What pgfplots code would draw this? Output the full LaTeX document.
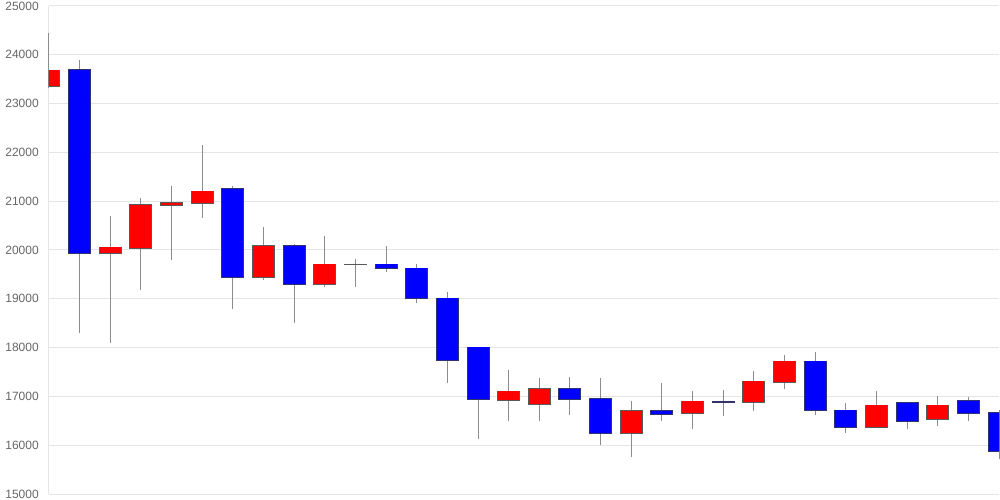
\documentclass[border=0pt]{standalone}
\usepackage{pgfplots}
\pgfplotsset{compat=1.18}
\usepackage{pgfplotstable}
\usepackage{fontspec}
\setmainfont{Liberation Sans}
\pgfplotstableread{
x bot top lo hi
0 23367 23682 23313 24441
2 19932 20055 18100 20697
3 20047 20922 19187 21059
4 20922 20963 19801 21311
5 20963 21203 20662 22152
7 19453 20082 19379 20471
9 19297 19707 19248 20287
10 19707 19707 19248 19809
15 16932 17104 16502 17541
16 16850 17152 16502 17383
19 16250 16701 15764 16906
21 16653 16899 16332 17104
23 16879 17309 16695 17520
24 17301 17719 17158 17855
27 16379 16817 16352 17111
29 16543 16817 16400 17002
}\reddata
\pgfplotstableread{
x bot top lo hi
1 19932 23695 18305 23893
6 19453 21256 18784 21311
8 19297 20082 18498 20117
11 19625 19707 19543 20082
12 19010 19625 18914 19707
13 17752 19010 17281 19133
14 16940 18006 16121 18006
17 16940 17152 16613 17391
18 16244 16947 16004 17383
20 16646 16701 16502 17275
22 16885 16885 16605 17131
25 16715 17719 16626 17910
26 16379 16715 16256 16858
28 16502 16865 16338 16865
30 16666 16906 16502 16988
31 15875 16666 15711 16721
}\bluedata
\begin{document}
\begin{tikzpicture}
\begin{axis}[at={(0,0)}, anchor=south west, scale only axis,
  width=712.5pt, height=366pt,
  xmin=0, xmax=31, ymin=15000, ymax=25000,
  xtick=\empty,
  ytick={15000,16000,...,25000},
  yticklabels={15000,16000,17000,18000,19000,20000,21000,22000,23000,24000,25000},
  scaled y ticks=false,
  axis x line=none, axis y line*=left,
  y axis line style={draw=black!10, line width=0.75pt},
  ymajorgrids, grid style={draw=black!10, line width=0.75pt},
  major tick length=0pt,
  clip=false,
  yticklabel style={font=\fontsize{9}{10}\selectfont, text=black!60, anchor=east, inner sep=0pt, xshift=-7.5pt},
]
% wicks
\addplot[draw=none, mark=none, error bars/.cd, y dir=both, y explicit, error mark=none,
  error bar style={draw=black!45, line width=0.75pt}]
  table[x=x, y=lo, y error plus expr=\thisrow{hi}-\thisrow{lo}, y error minus expr=0] {\reddata};
\addplot[draw=none, mark=none, error bars/.cd, y dir=both, y explicit, error mark=none,
  error bar style={draw=black!45, line width=0.75pt}]
  table[x=x, y=lo, y error plus expr=\thisrow{hi}-\thisrow{lo}, y error minus expr=0] {\bluedata};
\begin{scope}
\clip (axis cs:0,15000) rectangle (axis cs:31,25000);
% body outlines
\addplot[draw=none, mark=none, error bars/.cd, y dir=both, y explicit, error mark=none,
  error bar style={draw=black!65, line width=17.25pt}]
  table[x=x, y=bot, y error plus expr=\thisrow{top}-\thisrow{bot}+12, y error minus expr=12] {\reddata};
\addplot[draw=none, mark=none, error bars/.cd, y dir=both, y explicit, error mark=none,
  error bar style={draw={rgb,255:red,50;green,50;blue,110}, line width=17.25pt}]
  table[x=x, y=bot, y error plus expr=\thisrow{top}-\thisrow{bot}+12, y error minus expr=12] {\bluedata};
% body fills
\addplot[draw=none, mark=none, error bars/.cd, y dir=both, y explicit, error mark=none,
  error bar style={draw={rgb,255:red,255;green,0;blue,0}, line width=15.75pt}]
  table[x=x, y=bot, y error plus expr=\thisrow{top}-\thisrow{bot}, y error minus expr=0] {\reddata};
\addplot[draw=none, mark=none, error bars/.cd, y dir=both, y explicit, error mark=none,
  error bar style={draw={rgb,255:red,0;green,0;blue,255}, line width=15.75pt}]
  table[x=x, y=bot, y error plus expr=\thisrow{top}-\thisrow{bot}, y error minus expr=0] {\bluedata};
\end{scope}
\end{axis}
\pgfresetboundingbox
\useasboundingbox (-36.75pt,-4.5pt) rectangle (713.25pt,370.5pt);
\end{tikzpicture}
\end{document}
